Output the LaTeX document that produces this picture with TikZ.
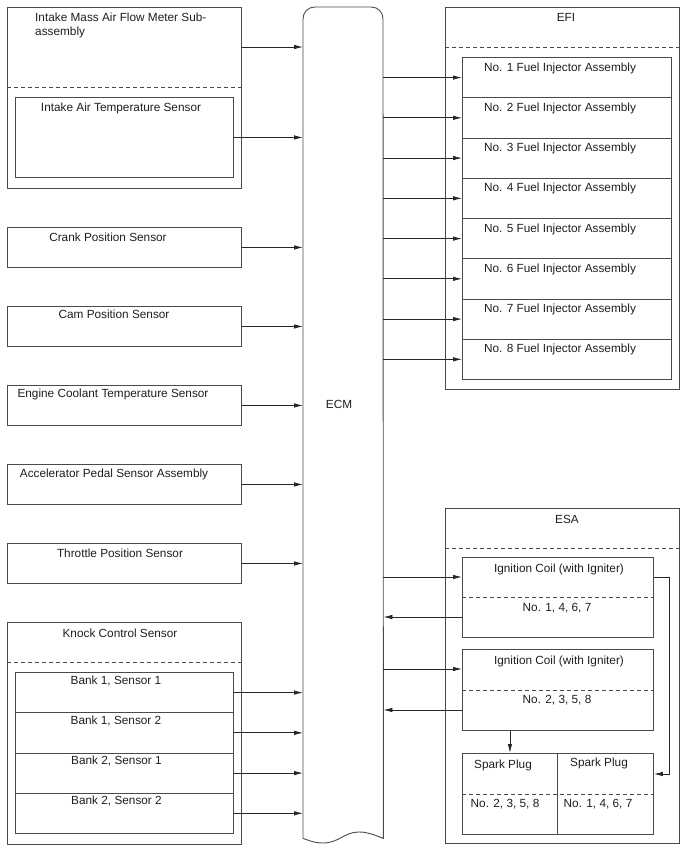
\documentclass[tikz,border=0pt]{standalone}
\usepackage{fontspec}
\setmainfont{Liberation Sans}
\usetikzlibrary{arrows.meta,calc}
\newcommand\fs{\fontsize{11.8}{13.5}\selectfont}
\definecolor{linec}{HTML}{4A4A4A}
\definecolor{txtc}{HTML}{1E1E1E}
\tikzset{
  box/.style={draw=linec, line width=0.9pt, inner sep=0pt, anchor=north west},
  dsh/.style={draw=linec, line width=0.8pt, dash pattern=on 4pt off 3pt},
  ln/.style={draw=linec, line width=0.9pt},
  arr/.style={draw=black!85, line width=0.8pt, -{Latex[length=9pt,width=4.5pt]}},
  txt/.style={font=\fs, text=txtc, inner sep=0pt, anchor=base},
}
\begin{document}
\begin{tikzpicture}[x=1pt,y=-1pt]
\useasboundingbox (0,0) rectangle (688,852);

% ECM
\node[inner sep=0pt, minimum width=80pt, minimum height=831pt, anchor=north west] (ecm) at (303,7) {};
\draw[ln] (ecm.south west) -- (303,19) .. controls (303,12) and (308,7) .. (315,7) -- (371,7)
  .. controls (378,7) and (383,12) .. (383,19) -- (ecm.south east)
  .. controls (372,834) and (367,832) .. (359,832)
  .. controls (344,832) and (339,843) .. (323,843)
  .. controls (314,843) and (308,840) .. (ecm.south west);
\node[txt] (ecml) at (339,408) {ECM};

% MAF
\node[box, minimum width=234pt, minimum height=181pt] (maf) at (7,7) {};
\draw[dsh] (maf.west |- 0,87) -- (maf.east |- 0,87);
\node[font=\fs, text=txtc, inner sep=0pt, anchor=north west, align=left] (mafl) at (35,13.2) {Intake Mass Air Flow Meter Sub-\\assembly};
\node[box, minimum width=218pt, minimum height=80pt] (iat) at (15,97) {};
\node[txt] (iatl) at (121,111) {Intake Air Temperature Sensor};
\draw[arr] (maf.east |- 0,47) -- (ecm.west |- 0,47);
\draw[arr] (iat.east) -- (iat.east -| ecm.west);

% single sensors
\node[box, minimum width=234pt, minimum height=40pt] (crank) at (7,227) {};
\node[txt] (crankl) at (108,241) {Crank Position Sensor};
\node[box, minimum width=234pt, minimum height=40pt] (cam) at (7,306) {};
\node[txt] (caml) at (114,318.5) {Cam Position Sensor};
\node[box, minimum width=234pt, minimum height=40pt] (ect) at (7,385) {};
\node[txt] (ectl) at (113,397.5) {Engine Coolant Temperature Sensor};
\node[box, minimum width=234pt, minimum height=40pt] (aps) at (7,464) {};
\node[txt] (apsl) at (114,477) {Accelerator Pedal Sensor Assembly};
\node[box, minimum width=234pt, minimum height=40pt] (tps) at (7,543) {};
\node[txt] (tpsl) at (120,557) {Throttle Position Sensor};
\foreach \n in {crank,cam,ect,aps,tps}
  \draw[arr] (\n.east) -- (\n.east -| ecm.west);

% Knock
\node[box, minimum width=234pt, minimum height=222pt] (knock) at (7,622) {};
\draw[dsh] (knock.west |- 0,662) -- (knock.east |- 0,662);
\node[txt] (knockl) at (120,637) {Knock Control Sensor};
\node[box, minimum width=218pt, minimum height=40.25pt] (b11) at (15,672) {};
\node[box, minimum width=218pt, minimum height=40.25pt] (b12) at (15,712.25) {};
\node[box, minimum width=218pt, minimum height=40.25pt] (b21) at (15,752.5) {};
\node[box, minimum width=218pt, minimum height=40.25pt] (b22) at (15,792.75) {};
\node[txt] (b11l) at (116,684) {Bank 1, Sensor 1};
\node[txt] (b12l) at (116,724.25) {Bank 1, Sensor 2};
\node[txt] (b21l) at (116.5,764.5) {Bank 2, Sensor 1};
\node[txt] (b22l) at (116.5,804.75) {Bank 2, Sensor 2};
\foreach \n in {b11,b12,b21,b22}
  \draw[arr] (\n.east) -- (\n.east -| ecm.west);

% EFI
\node[box, minimum width=234pt, minimum height=382pt] (efi) at (445,7) {};
\draw[dsh] (efi.west |- 0,47) -- (efi.east |- 0,47);
\node[txt] (efil) at (566,21) {EFI};
\foreach \i in {1,...,8}{
  \node[box, minimum width=209pt, minimum height=40.25pt] (inj\i) at (462,{57+40.25*(\i-1)}) {};
  \node[txt] (inj\i l) at (560,{71+40.25*(\i-1)}) {No. \i\ Fuel Injector Assembly};
  \draw[arr] (inj\i.west -| ecm.east) -- (inj\i.west);
}

% ESA
\node[box, minimum width=234pt, minimum height=335pt] (esa) at (445,508) {};
\draw[dsh] (esa.west |- 0,548) -- (esa.east |- 0,548);
\node[txt] (esal) at (567,523) {ESA};

\node[box, minimum width=191pt, minimum height=80pt] (coil1) at (462,557) {};
\draw[dsh] (coil1.west) -- (coil1.east);
\node[txt] (coil1a) at (559,572) {Ignition Coil (with Igniter)};
\node[txt] (coil1b) at (557,611) {No. 1, 4, 6, 7};

\node[box, minimum width=191pt, minimum height=81pt] (coil2) at (462,649) {};
\draw[dsh] (coil2.west) -- (coil2.east);
\node[txt] (coil2a) at (559,664) {Ignition Coil (with Igniter)};
\node[txt] (coil2b) at (557,703) {No. 2, 3, 5, 8};

\coordinate (c1in) at ($(coil1.north west)+(0,20)$);
\coordinate (c1out) at ($(coil1.north west)+(0,60)$);
\coordinate (c2in) at ($(coil2.north west)+(0,20)$);
\coordinate (c2out) at ($(coil2.north west)+(0,61)$);
\draw[arr] (c1in -| ecm.east) -- (c1in);
\draw[arr] (c1out) -- (c1out -| ecm.east);
\draw[arr] (c2in -| ecm.east) -- (c2in);
\draw[arr] (c2out) -- (c2out -| ecm.east);

% Spark plugs
\node[box, minimum width=95pt, minimum height=81pt] (spL) at (462,753) {};
\node[box, minimum width=96pt, minimum height=81pt] (spR) at (557,753) {};
\draw[dsh] (spL.west) -- (spR.east);
\node[txt] (spLa) at (503,768) {Spark Plug};
\node[txt] (spRa) at (599,766) {Spark Plug};
\node[txt] (spLb) at (505,807) {No. 2, 3, 5, 8};
\node[txt] (spRb) at (598,807) {No. 1, 4, 6, 7};

\coordinate (c1side) at ($(coil1.north east)+(0,20)$);
\coordinate (spin) at ($(spR.north east)+(0,21)$);
\draw[arr] (spL.north |- coil2.south) -- (spL.north);
\draw[arr] (c1side) -- ++(15,0) |- (spin);
\end{tikzpicture}
\end{document}
